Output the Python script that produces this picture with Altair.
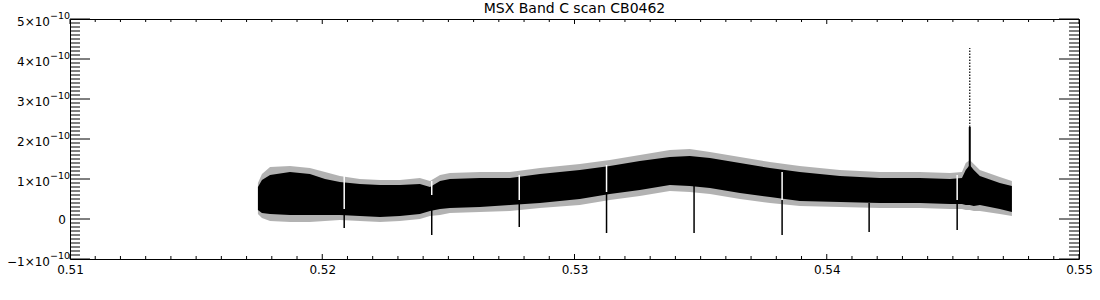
import altair as alt
import pandas as pd

TITLE = "MSX Band C scan CB0462"
UNIT = 1e-10

# x-axis ticks / labels
x_major = [0.51, 0.52, 0.53, 0.54, 0.55]
x_minor = [round(0.51 + i * 0.001, 3) for i in range(41) if i % 10 != 0]
# y-axis ticks (in units of 1e-10) and their labels (mantissa + exponent)
y_major = [-1, 0, 1, 2, 3, 4, 5]
y_label_base = ["\u22121\u00d710", "0", "1\u00d710", "2\u00d710", "3\u00d710", "4\u00d710", "5\u00d710"]
y_label_exp = ["\u221210", "", "\u221210", "\u221210", "\u221210", "\u221210", "\u221210"]
y_minor = [i / 10 for i in range(-10, 51) if i % 10 != 0]

# envelope of the dense scan data (values in units of 1e-10)
band_x = [0.51745, 0.51761, 0.51793, 0.51872, 0.51951, 0.52011, 0.52070, 0.52149,
          0.52229, 0.52308, 0.52387, 0.52427, 0.52467, 0.52506, 0.52625, 0.52744,
          0.52863, 0.53021, 0.53140, 0.53259, 0.53378, 0.53457, 0.53537, 0.53656,
          0.53775, 0.53893, 0.54052, 0.54210, 0.54369, 0.54488, 0.54536, 0.54551,
          0.54567, 0.54583, 0.54607, 0.54686, 0.54734]
core_top = [0.80, 0.975, 1.10, 1.175, 1.125, 1.00, 0.925, 0.875,
            0.85, 0.85, 0.875, 0.80, 0.95, 1.00, 1.025, 1.025,
            1.125, 1.225, 1.325, 1.45, 1.55, 1.575, 1.525, 1.40,
            1.275, 1.175, 1.075, 1.025, 1.025, 1.00, 1.025, 1.225,
            1.35, 1.225, 1.075, 0.90, 0.825]
core_bot = [0.225, 0.15, 0.125, 0.10, 0.10, 0.10, 0.10, 0.075,
            0.05, 0.075, 0.125, 0.20, 0.25, 0.275, 0.30, 0.35,
            0.40, 0.50, 0.625, 0.725, 0.85, 0.825, 0.775, 0.65,
            0.55, 0.45, 0.425, 0.40, 0.40, 0.375, 0.375, 0.35,
            0.35, 0.325, 0.35, 0.25, 0.175]
outer_top = [0.90, 1.125, 1.30, 1.325, 1.275, 1.175, 1.075, 1.00,
             0.975, 0.975, 1.025, 0.95, 1.10, 1.15, 1.175, 1.175,
             1.275, 1.375, 1.475, 1.60, 1.725, 1.75, 1.675, 1.55,
             1.425, 1.325, 1.225, 1.175, 1.175, 1.15, 1.175, 1.40,
             1.475, 1.375, 1.225, 1.05, 0.95]
outer_bot = [0.125, 0.025, -0.05, -0.075, -0.075, -0.05, -0.025, -0.05,
             -0.075, -0.05, 0.0, 0.075, 0.10, 0.15, 0.175, 0.20,
             0.275, 0.35, 0.475, 0.575, 0.70, 0.675, 0.625, 0.50,
             0.40, 0.325, 0.30, 0.275, 0.275, 0.25, 0.25, 0.225,
             0.225, 0.20, 0.20, 0.125, 0.075]

# periodic downward glitches
dip_x = [0.52087, 0.52434, 0.52781, 0.53127, 0.53474, 0.53823, 0.54168, 0.54517]
dip_top = [0.25, 0.325, 0.475, 0.675, 0.875, 0.475, 0.40, 0.475]
dip_bottom = [-0.225, -0.40, -0.20, -0.35, -0.35, -0.40, -0.325, -0.275]
# white gaps through the band
gap_x = [0.52087, 0.52434, 0.52781, 0.53127, 0.53823, 0.54517]
gap_top = [1.075, 0.95, 1.10, 1.35, 1.175, 1.10]
gap_bottom = [0.25, 0.60, 0.475, 0.675, 0.475, 0.475]

# source spike
spike_x = [0.54567]
spike_base = [1.30]
spike_solid_top = [2.30]
spike_peak = [4.275]

W, H = 1009, 240
FONT = "DejaVu Sans"

band = pd.DataFrame({
    "x": band_x,
    "ct": [v * UNIT for v in core_top],
    "cb": [v * UNIT for v in core_bot],
    "ot": [v * UNIT for v in outer_top],
    "ob": [v * UNIT for v in outer_bot],
})
dips = pd.DataFrame({"x": dip_x, "t": [v * UNIT for v in dip_top], "b": [v * UNIT for v in dip_bottom]})
gaps = pd.DataFrame({"x": gap_x, "t": [v * UNIT for v in gap_top], "b": [v * UNIT for v in gap_bottom]})
spike = pd.DataFrame({"x": spike_x, "b": [v * UNIT for v in spike_base],
                      "m": [v * UNIT for v in spike_solid_top], "t": [v * UNIT for v in spike_peak]})
ylab = pd.DataFrame({"v": [v * UNIT for v in y_major], "base": y_label_base, "exp": y_label_exp})
ylab_exp = ylab[ylab["exp"] != ""]
ylab_zero = ylab[ylab["exp"] == ""]

xs = alt.Scale(domain=[0.51, 0.55], nice=False, zero=False)
ys = alt.Scale(domain=[-1e-10, 5e-10], nice=False, zero=False)

x_axis = alt.Axis(values=x_major, format=".2f", ticks=False, tickSize=0, domain=False, grid=False,
                  labelFlush=False, labelPadding=5, title=None, labelOverlap=False,
                  labelFont=FONT, labelFontSize=12, labelColor="black")


def X(field):
    return alt.X(field, type="quantitative", scale=xs, axis=x_axis)


def Y(field):
    return alt.Y(field, type="quantitative", scale=ys, axis=None)


outer = alt.Chart(band).mark_area(color="black", opacity=0.3).encode(
    x=X("x"), y=Y("ot"), y2="ob:Q")
core = alt.Chart(band).mark_area(color="black").encode(
    x=X("x"), y=Y("ct"), y2="cb:Q")
gap_layer = alt.Chart(gaps).mark_rule(color="white", strokeWidth=1.5).encode(
    x=X("x"), y=Y("t"), y2="b:Q")
dip_layer = alt.Chart(dips).mark_rule(color="black", strokeWidth=1.5).encode(
    x=X("x"), y=Y("t"), y2="b:Q")
spike_solid = alt.Chart(spike).mark_rule(color="black", strokeWidth=2).encode(
    x=X("x"), y=Y("b"), y2="m:Q")
spike_dotted = alt.Chart(spike).mark_rule(color="black", strokeWidth=1.2, strokeDash=[1.5, 1.5]).encode(
    x=X("x"), y=Y("m"), y2="t:Q")

# inward IDL-style ticks
ymaj = pd.DataFrame({"v": [v * UNIT for v in y_major]})
ymin = pd.DataFrame({"v": [v * UNIT for v in y_minor]})
xmaj = pd.DataFrame({"v": x_major})
xmin = pd.DataFrame({"v": x_minor})


def ytick(df, x0, x1):
    return alt.Chart(df).mark_rule(color="black", strokeWidth=1).encode(
        y=Y("v"), x=alt.value(x0), x2=alt.value(x1))


def xtick(df, y0, y1):
    return alt.Chart(df).mark_rule(color="black", strokeWidth=1).encode(
        x=X("v"), y=alt.value(y0), y2=alt.value(y1))


ticks = [
    ytick(ymaj, 0, 20), ytick(ymaj, W, W - 20),
    ytick(ymin, 0, 10), ytick(ymin, W, W - 10),
    xtick(xmaj, H, H - 5), xtick(xmaj, 0, 5),
    xtick(xmin, H, H - 3), xtick(xmin, 0, 3),
]

# y tick labels: mantissa and raised exponent
ylab_base_layer = alt.Chart(ylab_exp).mark_text(
    align="right", baseline="middle", font=FONT, fontSize=12, color="black", dy=3).encode(
    y=Y("v"), x=alt.value(-20), text="base:N")
ylab_exp_layer = alt.Chart(ylab_exp).mark_text(
    align="left", baseline="middle", font=FONT, fontSize=9.5, color="black", dy=-3.5).encode(
    y=Y("v"), x=alt.value(-20), text="exp:N")
ylab_zero_layer = alt.Chart(ylab_zero).mark_text(
    align="right", baseline="middle", font=FONT, fontSize=12, color="black", dy=1).encode(
    y=Y("v"), x=alt.value(-4), text="base:N")

title_layer = alt.Chart(pd.DataFrame({"t": [TITLE]})).mark_text(
    align="center", baseline="alphabetic", font=FONT, fontSize=14, color="black").encode(
    x=alt.value(W / 2), y=alt.value(-6), text="t:N")

chart = alt.layer(outer, core, gap_layer, dip_layer, spike_solid, spike_dotted, *ticks,
                  ylab_base_layer, ylab_exp_layer, ylab_zero_layer, title_layer).properties(
    width=W, height=H,
    autosize=alt.AutoSizeParams(type="none"),
    padding={"left": 70, "top": 19, "right": 21, "bottom": 41},
    background="white",
).configure_view(stroke="black", strokeWidth=1)

chart.save("out.html", embed_options={"renderer": "svg", "actions": False})
